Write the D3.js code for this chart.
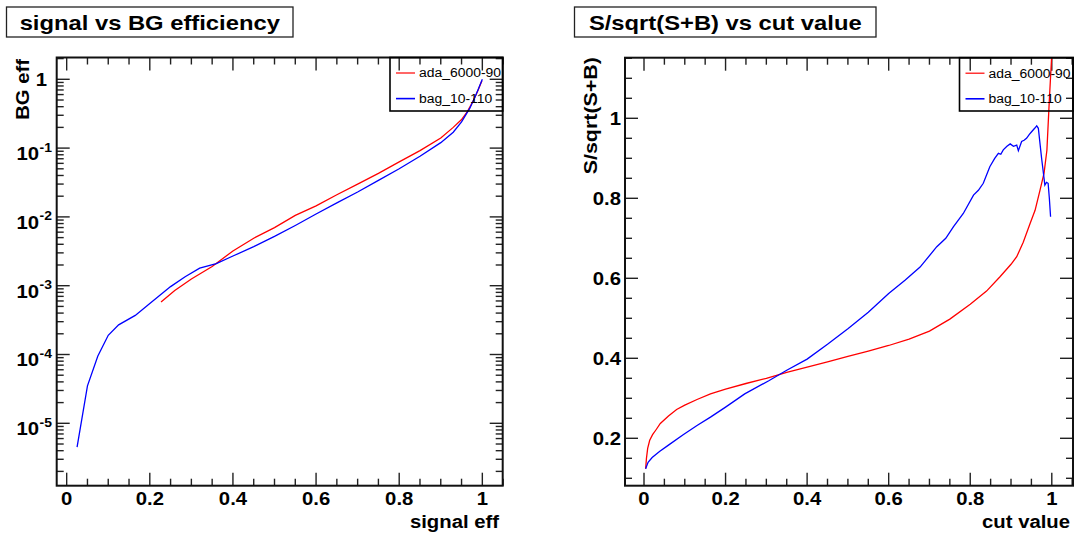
<!DOCTYPE html>
<html>
<head>
<meta charset="utf-8">
<script src="https://cdn.jsdelivr.net/npm/d3@7"></script>
<style>
  body { margin: 0; background: #fff; }
  svg { display: block; }
  text { font-family: "Liberation Sans", Arial, Helvetica, sans-serif; fill: #000; }
</style>
</head>
<body>
<svg id="canvas" width="1074" height="535"></svg>
<script>
// ---- ROC curves: background efficiency vs signal efficiency ----
const rocSignalAda = [0.227, 0.26, 0.30, 0.35, 0.40, 0.45, 0.50, 0.55, 0.60, 0.65, 0.70, 0.75, 0.80, 0.85, 0.90, 0.93, 0.95, 0.964, 0.979, 0.99, 0.999];
const rocBgAda     = [5.8e-4, 8.5e-4, 1.25e-3, 1.9e-3, 3.2e-3, 4.9e-3, 7.0e-3, 1.05e-2, 1.45e-2, 2.1e-2, 3.0e-2, 4.3e-2, 6.3e-2, 9.2e-2, 0.14, 0.2, 0.26, 0.34, 0.5, 0.7, 0.95];

const rocSignalBag = [0.025, 0.05, 0.075, 0.10, 0.125, 0.165, 0.20, 0.25, 0.285, 0.32, 0.36, 0.40, 0.45, 0.50, 0.55, 0.60, 0.65, 0.70, 0.75, 0.80, 0.85, 0.90, 0.93, 0.95, 0.97, 0.985, 1.0];
const rocBgBag     = [4.5e-6, 3.5e-5, 9.5e-5, 1.9e-4, 2.7e-4, 3.7e-4, 5.5e-4, 9.7e-4, 1.35e-3, 1.8e-3, 2.1e-3, 2.7e-3, 3.7e-3, 5.2e-3, 7.5e-3, 1.1e-2, 1.6e-2, 2.3e-2, 3.4e-2, 5.0e-2, 7.6e-2, 0.12, 0.17, 0.24, 0.38, 0.6, 1.0];

// ---- Significance S/sqrt(S+B) vs cut value ----
const cutAda = [0.004, 0.006, 0.009, 0.014, 0.021, 0.03, 0.04, 0.06, 0.08, 0.10, 0.13, 0.163, 0.20, 0.25, 0.30, 0.35, 0.40, 0.45, 0.50, 0.55, 0.60, 0.65, 0.70, 0.75, 0.80, 0.84, 0.873, 0.90, 0.914, 0.93, 0.947, 0.959, 0.971, 0.981, 0.988, 0.994, 0.997, 1.0];
const signifAda = [0.124, 0.15, 0.175, 0.195, 0.209, 0.222, 0.237, 0.256, 0.272, 0.283, 0.297, 0.311, 0.323, 0.337, 0.350, 0.365, 0.378, 0.391, 0.405, 0.418, 0.432, 0.448, 0.468, 0.498, 0.535, 0.568, 0.604, 0.635, 0.654, 0.69, 0.7375, 0.77, 0.82, 0.863, 0.92, 1.046, 1.104, 1.16];

const cutBag = [0.004, 0.01, 0.02, 0.038, 0.06, 0.096, 0.13, 0.163, 0.20, 0.247, 0.306, 0.35, 0.40, 0.45, 0.50, 0.55, 0.60, 0.64, 0.677, 0.718, 0.74, 0.759, 0.783, 0.808, 0.82, 0.832, 0.848, 0.86, 0.869, 0.875, 0.881, 0.89, 0.898, 0.906, 0.914, 0.918, 0.926, 0.932, 0.938, 0.945, 0.951, 0.958, 0.963, 0.967, 0.975, 0.983, 0.987, 0.991, 0.994, 0.997];
const signifBag = [0.124, 0.14, 0.152, 0.167, 0.183, 0.209, 0.232, 0.253, 0.278, 0.311, 0.344, 0.37, 0.398, 0.435, 0.474, 0.515, 0.562, 0.595, 0.628, 0.679, 0.70, 0.729, 0.762, 0.808, 0.82, 0.8375, 0.879, 0.90, 0.9125, 0.91, 0.921, 0.93, 0.936, 0.93, 0.933, 0.919, 0.942, 0.945, 0.95, 0.96, 0.967, 0.975, 0.981, 0.975, 0.90, 0.833, 0.84, 0.8375, 0.80, 0.754];

// ---- Labels ----
const seriesNames = ["ada_6000-90", "bag_10-110"];
const linearTicks = [0, 0.2, 0.4, 0.6, 0.8, 1];
const logTickExponents = [0, -1, -2, -3, -4, -5];
const signifTicks = [0.2, 0.4, 0.6, 0.8, 1];

const seriesColors = ["#ff0000", "#0000ff"];
const TEXT_STRETCH = 1.16;

const svg = d3.select("#canvas");

// Horizontally widened text, the way the plotting font renders it
function label(g, x, y, str, opt = {}) {
  return g.append("text")
    .attr("transform", `translate(${x},${y})` + (opt.rotate ? ` rotate(${opt.rotate})` : "") + ` scale(${TEXT_STRETCH},1)`)
    .attr("font-size", opt.size || 17.5)
    .attr("font-weight", opt.weight || "bold")
    .attr("text-anchor", opt.anchor || "start")
    .text(str);
}

function titleBox(x0, x1, text) {
  svg.append("rect").attr("x", x0).attr("y", 7).attr("width", x1 - x0).attr("height", 30)
    .attr("fill", "#fff").attr("stroke", "#222").attr("stroke-width", 1.3);
  label(svg, (x0 + x1) / 2, 29.5, text, { size: 20.5, anchor: "middle" });
}

function drawLinearXTicks(g, x, y0, y1) {
  d3.range(0, 1.0501, 0.05).filter(v => x(v) <= x.range()[1] + 0.5).forEach(v => {
    const major = Math.abs(v / 0.2 - Math.round(v / 0.2)) < 1e-6;
    const len = major ? 13 : 7;
    g.append("line").attr("x1", x(v)).attr("x2", x(v)).attr("y1", y1).attr("y2", y1 - len).attr("class", "tick");
    g.append("line").attr("x1", x(v)).attr("x2", x(v)).attr("y1", y0).attr("y2", y0 + len).attr("class", "tick");
  });
}

function drawFrame(g, x0, x1, y0, y1) {
  g.append("rect").attr("x", x0).attr("y", y0).attr("width", x1 - x0).attr("height", y1 - y0)
    .attr("fill", "none").attr("stroke", "#111").attr("stroke-width", 2);
}

function drawLegend(g, x0, x1, y0, y1) {
  g.append("rect").attr("x", x0).attr("y", y0).attr("width", x1 - x0).attr("height", y1 - y0)
    .attr("fill", "none").attr("stroke", "#000").attr("stroke-width", 1.6);
  seriesNames.forEach((name, i) => {
    const cy = y0 + 15.5 + i * 25.6;
    g.append("line").attr("x1", x0 + 6).attr("x2", x0 + 25).attr("y1", cy).attr("y2", cy)
      .attr("stroke", seriesColors[i]).attr("stroke-width", i === 1 ? 1.6 : 1.2);
    label(g, x0 + 29, cy + 4.3, name, { size: 12, weight: "normal" });
  });
}

svg.append("style").text(".tick{stroke:#222;stroke-width:1.4}");

// ================= Left pad: ROC =================
{
  const L = { x0: 56.7, x1: 502.7, y0: 57.5, y1: 485.7 };
  const g = svg.append("g");
  const x = d3.scaleLinear().domain([-0.024, 1.049]).range([L.x0, L.x1]);
  const y = d3.scaleLog().domain([1.239e-6, 2.074]).range([L.y1, L.y0]);

  titleBox(6.5, 293, "signal vs BG efficiency");

  g.append("clipPath").attr("id", "clipL").append("rect")
    .attr("x", L.x0).attr("y", L.y0).attr("width", L.x1 - L.x0).attr("height", L.y1 - L.y0);

  drawLinearXTicks(g, x, L.y0, L.y1);

  // log ticks on both vertical sides
  for (let e = -6; e <= 0; e++) {
    for (let m = 1; m <= 9; m++) {
      const py = y(m * Math.pow(10, e));
      if (py < L.y0 + 0.5 || py > L.y1 - 0.5) continue;
      const len = m === 1 ? 13 : 7;
      g.append("line").attr("x1", L.x0).attr("x2", L.x0 + len).attr("y1", py).attr("y2", py).attr("class", "tick");
      g.append("line").attr("x1", L.x1).attr("x2", L.x1 - len).attr("y1", py).attr("y2", py).attr("class", "tick");
    }
  }

  linearTicks.forEach(v => label(g, x(v), 504.5, v === 0 || v === 1 ? String(v) : v.toFixed(1), { anchor: "middle" }));
  logTickExponents.forEach(e => {
    const py = y(Math.pow(10, e));
    if (e === 0) {
      label(g, 47, py + 6.5, "1", { anchor: "end" });
    } else {
      label(g, 39, py + 11.8, "10", { anchor: "end" });
      label(g, 39.5, py + 3.5, String(e), { size: 12 });
    }
  });

  label(g, 499, 528, "signal eff", { anchor: "end" });
  label(g, 28.5, 59, "BG eff", { anchor: "end", rotate: -90 });

  const line = d3.line().x(d => x(d[0])).y(d => y(d[1]));
  const curves = g.append("g").attr("clip-path", "url(#clipL)");
  curves.append("path").datum(d3.zip(rocSignalAda, rocBgAda)).attr("d", line)
    .attr("fill", "none").attr("stroke", seriesColors[0]).attr("stroke-width", 1.3);
  curves.append("path").datum(d3.zip(rocSignalBag, rocBgBag)).attr("d", line)
    .attr("fill", "none").attr("stroke", seriesColors[1]).attr("stroke-width", 1.3);

  drawFrame(g, L.x0, L.x1, L.y0, L.y1);
  drawLegend(g, 390, L.x1, L.y0, 111);
}

// ================= Right pad: significance =================
{
  const R = { x0: 625, x1: 1073, y0: 57.7, y1: 485.7 };
  const g = svg.append("g");
  const x = d3.scaleLinear().domain([-0.0466, 1.052]).range([R.x0, R.x1]);
  const y = d3.scaleLinear().domain([0.0815, 1.1515]).range([R.y1, R.y0]);

  titleBox(574.5, 876, "S/sqrt(S+B) vs cut value");

  g.append("clipPath").attr("id", "clipR").append("rect")
    .attr("x", R.x0).attr("y", R.y0).attr("width", R.x1 - R.x0).attr("height", R.y1 - R.y0);

  drawLinearXTicks(g, x, R.y0, R.y1);

  d3.range(0.1, 1.1501, 0.05).forEach(v => {
    const major = Math.abs(v / 0.2 - Math.round(v / 0.2)) < 1e-6;
    const len = major ? 13 : 7;
    const py = y(v);
    g.append("line").attr("x1", R.x0).attr("x2", R.x0 + len).attr("y1", py).attr("y2", py).attr("class", "tick");
    g.append("line").attr("x1", R.x1).attr("x2", R.x1 - len).attr("y1", py).attr("y2", py).attr("class", "tick");
  });

  linearTicks.forEach(v => label(g, x(v), 504.5, v === 0 || v === 1 ? String(v) : v.toFixed(1), { anchor: "middle" }));
  signifTicks.forEach(v => label(g, 621, y(v) + 6.3, v === 1 ? "1" : v.toFixed(1), { anchor: "end" }));

  label(g, 1070, 528, "cut value", { anchor: "end" });
  label(g, 597, 57, "S/sqrt(S+B)", { anchor: "end", rotate: -90, size: 18.5 });

  const line = d3.line().x(d => x(d[0])).y(d => y(d[1]));
  const curves = g.append("g").attr("clip-path", "url(#clipR)");
  curves.append("path").datum(d3.zip(cutAda, signifAda)).attr("d", line)
    .attr("fill", "none").attr("stroke", seriesColors[0]).attr("stroke-width", 1.3);
  curves.append("path").datum(d3.zip(cutBag, signifBag)).attr("d", line)
    .attr("fill", "none").attr("stroke", seriesColors[1]).attr("stroke-width", 1.3);

  drawFrame(g, R.x0, R.x1, R.y0, R.y1);
  drawLegend(g, 959.5, R.x1, R.y0, 111);
}
</script>
</body>
</html>
